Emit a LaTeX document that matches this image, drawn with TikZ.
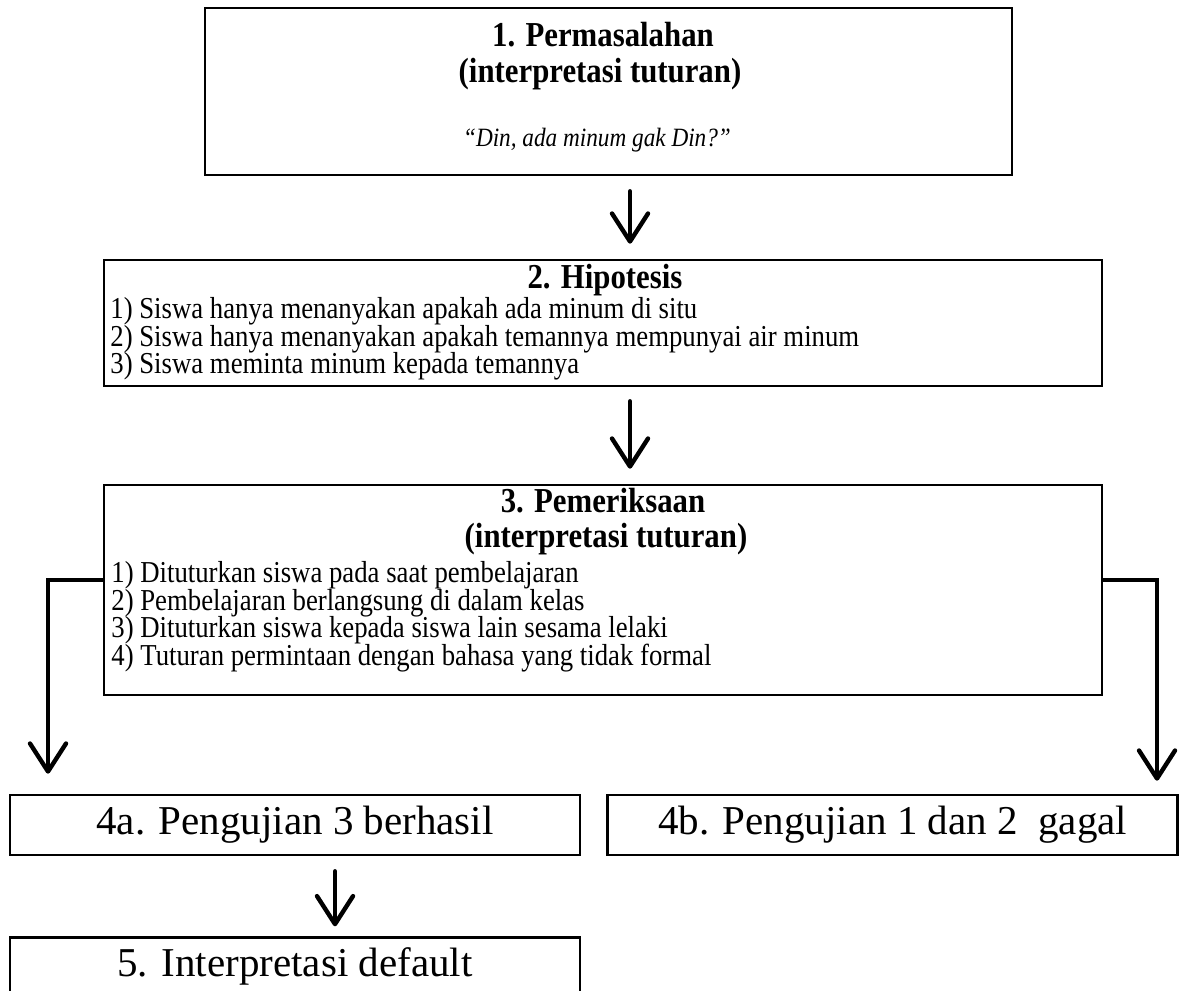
\documentclass[tikz,border=0pt]{standalone}
\usepackage{fontspec}
\setmainfont{Liberation Serif}
\newfontfamily\boxserif[FakeStretch=0.88]{Liberation Serif}
\newfontfamily\wideserif[FakeStretch=1.0]{Liberation Serif}
\usetikzlibrary{arrows.meta,positioning}
\tikzset{
  flow-box/.style={draw=black, fill=white, line width=1.3pt, inner sep=0pt},
  flow-title/.style={font=\boxserif\bfseries\fontsize{17.5}{19}\selectfont,
    inner sep=0pt, text height=0.66em, text depth=0.19em},
  flow-quote/.style={font=\boxserif\itshape\fontsize{13.2}{15}\selectfont,
    inner sep=0pt, text height=0.68em, text depth=0.2em},
  flow-item/.style={font=\boxserif\fontsize{15.2}{16}\selectfont, anchor=west,
    inner sep=0pt, text height=0.68em, text depth=0.2em},
  flow-step/.style={flow-box, font=\wideserif\fontsize{20.5}{22}\selectfont,
    minimum width=285pt, minimum height=30pt},
  flow-arrow/.style={line width=2.2pt, line cap=round,
    -{Straight Barb[length=14pt,width=18pt,round]}}
}

\begin{document}
\begin{tikzpicture}[x=0.5pt, y=-0.5pt]
  \useasboundingbox (0,0) rectangle (1186,990);
  % boxes
  \node[flow-box, minimum width=403.5pt, minimum height=83.5pt] (perm) at (608.5,91.5) {};
  \node[flow-box, minimum width=499pt, minimum height=63pt] (hipo) at (603,323) {};
  \node[flow-box, minimum width=499pt, minimum height=105pt] (periksa) at (603,590) {};
  \node[flow-step] (uji-a) at (295,825) {4a. Pengujian 3 berhasil};
  \node[flow-step, right=12.5pt of uji-a] (uji-b) {4b. Pengujian 1 dan 2~ gagal};
  \node[flow-step, below=40pt of uji-a, minimum height=29pt] (default) {5. Interpretasi default};

  % 1. permasalahan
  \node[flow-title] (perm-t1) at (603,42) {1. Permasalahan};
  \node[flow-title] (perm-t2) at (600,78) {(interpretasi tuturan)};
  \node[flow-quote] (perm-q) at (597,142) {“Din, ada minum gak Din?”};

  % 2. hipotesis
  \node[flow-title] (hipo-t) at (605,284) {2. Hipotesis};
  \foreach \txt [count=\i] in {1) Siswa hanya menanyakan apakah ada minum di situ,
      2) Siswa hanya menanyakan apakah temannya mempunyai air minum,
      3) Siswa meminta minum kepada temannya}
    \node[flow-item] (hipo-\i) at (110,{314+27.5*(\i-1)}) {\txt};

  % 3. pemeriksaan
  \node[flow-title] (periksa-t1) at (603,508) {3. Pemeriksaan};
  \node[flow-title] (periksa-t2) at (606,543) {(interpretasi tuturan)};
  \foreach \txt [count=\i] in {1) Dituturkan siswa pada saat pembelajaran,
      2) Pembelajaran berlangsung di dalam kelas,
      3) Dituturkan siswa kepada siswa lain sesama lelaki,
      4) Tuturan permintaan dengan bahasa yang tidak formal}
    \node[flow-item] (periksa-\i) at (111,{578+27.5*(\i-1)}) {\txt};

  % connectors
  \coordinate (mid-axis) at (630,0);
  \coordinate (down-axis) at (335,0);
  \coordinate (left-bend) at (48,580);
  \coordinate (right-bend) at (1157,580);
  \draw[flow-arrow, shorten <=7.5pt, shorten >=7.5pt] (perm.south -| mid-axis) -- (hipo.north -| mid-axis);
  \draw[flow-arrow, shorten <=7pt, shorten >=7.5pt] (hipo.south -| mid-axis) -- (periksa.north -| mid-axis);
  \draw[flow-arrow, line cap=butt] (periksa.west |- left-bend) -- (left-bend) -- ([yshift=10pt]left-bend |- uji-a.north);
  \draw[flow-arrow, line cap=butt] (periksa.east |- right-bend) -- (right-bend) -- ([yshift=6.5pt]right-bend |- uji-b.north);
  \draw[flow-arrow, shorten <=7.5pt, shorten >=5pt] (uji-a.south -| down-axis) -- (default.north -| down-axis);
\end{tikzpicture}
\end{document}
